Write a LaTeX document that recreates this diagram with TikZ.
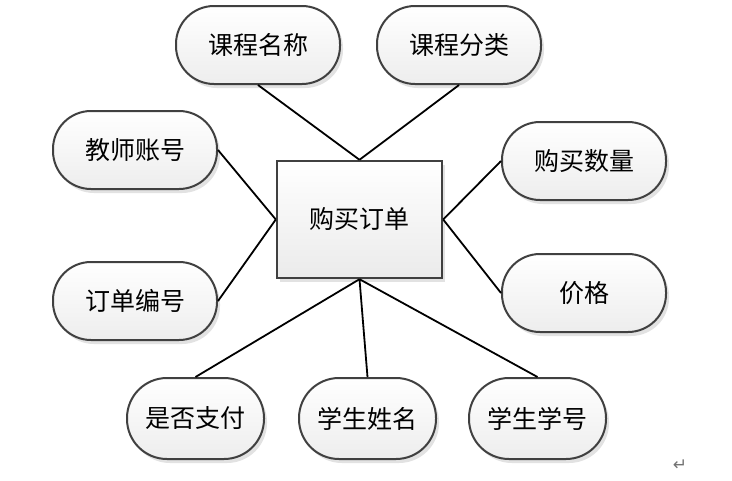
\documentclass[tikz,border=0pt]{standalone}
\usepackage{fontspec}
\newfontfamily\cjk{Noto Sans CJK SC}
\newfontfamily\symf{DejaVu Sans}
\usetikzlibrary{shadows}
\definecolor{edgegray}{HTML}{404040}
\tikzset{
  attr/.style={draw=edgegray, line width=2pt, rounded corners=38pt,
    top color=white, bottom color=black!7,
    drop shadow={shadow xshift=3pt, shadow yshift=-4pt, fill=black!25, opacity=0.45},
    minimum width=164pt, minimum height=78pt, inner sep=0pt,
    font=\cjk\fontsize{25}{28}\selectfont},
  attrs/.style={attr, minimum width=137pt, minimum height=81pt, rounded corners=40pt},
  entity/.style={draw=edgegray, line width=2.4pt,
    top color=white, bottom color=black!8,
    drop shadow={shadow xshift=3pt, shadow yshift=-4pt, fill=black!25, opacity=0.45},
    minimum width=165pt, minimum height=117pt, inner sep=0pt,
    font=\cjk\fontsize{25}{28}\selectfont},
  link/.style={line width=1.8pt, black}
}
\begin{document}
\begin{tikzpicture}[x=1pt,y=-1pt]
\useasboundingbox (0,0) rectangle (732,480);
\node[entity] (e) at (359.5,219.5) {购买订单};
\node[attr] (kcmc) at (258,45) {课程名称};
\node[attr] (kcfl) at (459,45) {课程分类};
\node[attr] (jszh) at (135,150) {教师账号};
\node[attr] (ddbh) at (135,301) {订单编号};
\node[attr] (gmsl) at (584,161) {购买数量};
\node[attr] (jg) at (584,293) {价格};
\node[attrs] (sfzf) at (195.5,418.5) {是否支付};
\node[attrs] (xsxm) at (367.5,418.5) {学生姓名};
\node[attrs] (xsxh) at (537.5,418.5) {学生学号};
\draw[link] (kcmc.south) -- (e.north);
\draw[link] (kcfl.south) -- (e.north);
\draw[link] (jszh.east) -- (e.west);
\draw[link] (ddbh.east) -- (e.west);
\draw[link] (gmsl.west) -- (e.east);
\draw[link] (jg.west) -- (e.east);
\draw[link] (sfzf.north) -- (e.south);
\draw[link] (xsxm.north) -- (e.south);
\draw[link] (xsxh.north) -- (e.south);
\node[text=black!55, font=\symf\fontsize{17}{18}\selectfont] (ret) at (680,465) {↵};
\end{tikzpicture}
\end{document}
